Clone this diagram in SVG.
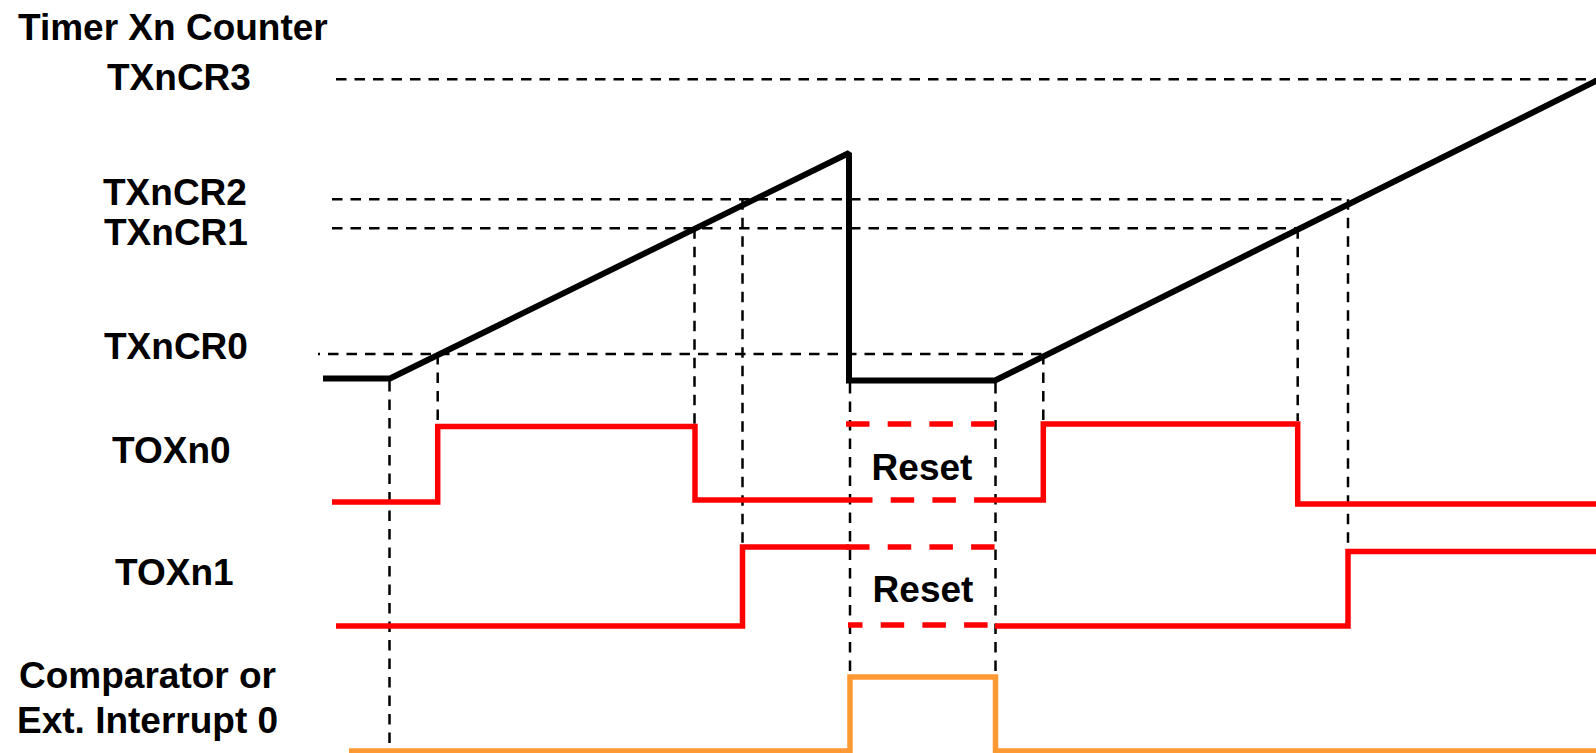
<svg xmlns="http://www.w3.org/2000/svg" width="1596" height="753" viewBox="0 0 1596 753">
<style>
  .lbl { font-family: "Liberation Sans", Arial, sans-serif; font-weight: bold; font-size: 37px; fill: #000; }
  .guide { stroke: #000; stroke-width: 2.5; stroke-dasharray: 10.5 8; fill: none; }
  .cnt { stroke: #000; stroke-width: 6; fill: none; stroke-linejoin: miter; stroke-miterlimit: 1.5; }
  .sig { stroke: #ff0000; stroke-width: 5.5; fill: none; stroke-linejoin: miter; }
  .rst { stroke: #ff0000; stroke-width: 5.5; fill: none; stroke-dasharray: 23.5 18.2; }
  .cmp { stroke: #ff9933; stroke-width: 5.5; fill: none; stroke-linejoin: miter; }
</style>
<rect width="1596" height="753" fill="#fff"/>

<g id="labels">
  <text class="lbl" x="18" y="40">Timer Xn Counter</text>
  <text class="lbl" x="107" y="90">TXnCR3</text>
  <text class="lbl" x="103" y="205">TXnCR2</text>
  <text class="lbl" x="104" y="245">TXnCR1</text>
  <text class="lbl" x="104" y="359">TXnCR0</text>
  <text class="lbl" x="112" y="462.5">TOXn0</text>
  <text class="lbl" x="115" y="585">TOXn1</text>
  <text class="lbl" x="19" y="688">Comparator or</text>
  <text class="lbl" x="17" y="733">Ext. Interrupt 0</text>
</g>

<g id="connectors">
  <line class="guide" x1="336" y1="79.3" x2="1596" y2="79.3"/>
  <line class="guide" x1="332" y1="199.3" x2="1348" y2="199.3"/>
  <line class="guide" x1="332" y1="228.3" x2="1298" y2="228.3"/>
  <line class="guide" x1="318" y1="354" x2="1043" y2="354" stroke-dashoffset="8.5"/>
  <line class="guide" x1="389.5" y1="381" x2="389.5" y2="753"/>
  <line class="guide" x1="437.7" y1="354" x2="437.7" y2="424"/>
  <line class="guide" x1="694.5" y1="228.3" x2="694.5" y2="424"/>
  <line class="guide" x1="742.5" y1="199.3" x2="742.5" y2="544"/>
  <line class="guide" x1="850" y1="383" x2="850" y2="676"/>
  <line class="guide" x1="995.5" y1="383" x2="995.5" y2="676"/>
  <line class="guide" x1="1043.3" y1="354" x2="1043.3" y2="421"/>
  <line class="guide" x1="1297.7" y1="228.3" x2="1297.7" y2="421"/>
  <line class="guide" x1="1348" y1="199.3" x2="1348" y2="549"/>
</g>

<g id="counter">
  <path class="cnt" d="M323,378.5 H390 L849,153 V380.5 H995 L1597,80.5"/>
</g>

<g id="toxn0">
  <path class="sig" d="M332,502 H437.7 V426.5 H695 V500 H849"/>
  <path class="rst" d="M846,424 H995"/>
  <path class="rst" d="M849,500 H995"/>
  <path class="sig" d="M995,500 H1043.3 V424 H1297.7 V504 H1596"/>
  <text class="lbl" x="922" y="480" text-anchor="middle">Reset</text>
</g>

<g id="toxn1">
  <path class="sig" d="M336,626 H742.5 V547 H849"/>
  <path class="rst" d="M846,547 H995"/>
  <path class="rst" d="M848,625 H998" stroke-dashoffset="9"/>
  <path class="sig" d="M995,626 H1348 V551.5 H1596"/>
  <text class="lbl" x="923" y="601.7" text-anchor="middle">Reset</text>
</g>

<g id="comparator">
  <path class="cmp" d="M349,751 H850 V677 H995.5 V751 H1596"/>
</g>
</svg>
